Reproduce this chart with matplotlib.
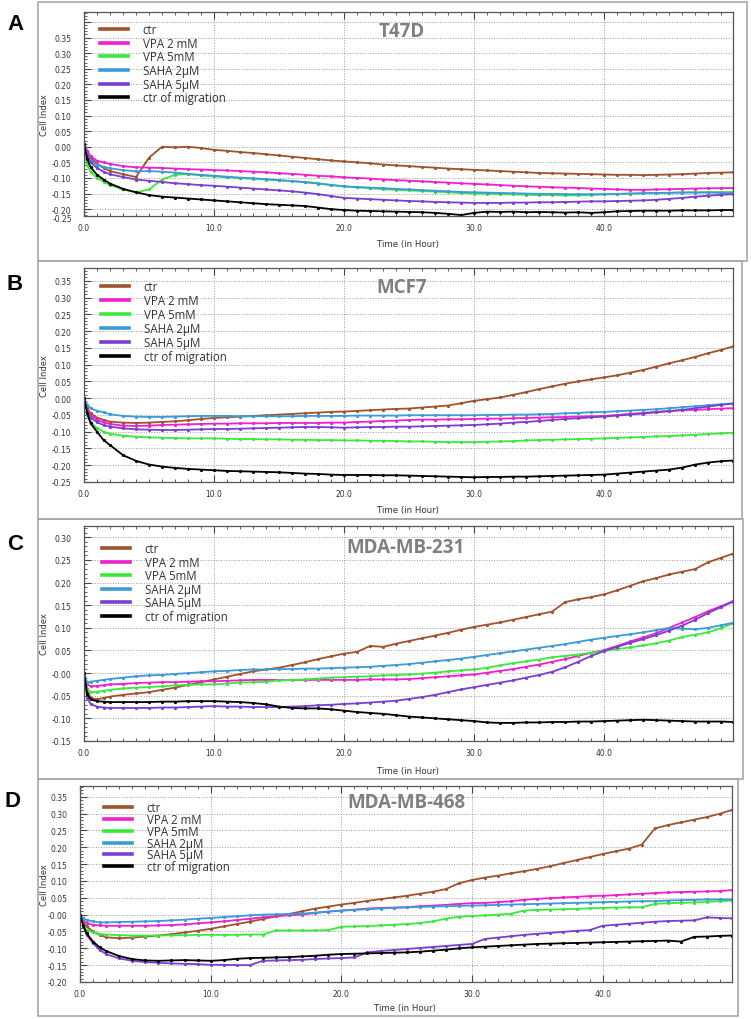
import matplotlib
matplotlib.use("Agg")
import matplotlib.pyplot as plt
from matplotlib.ticker import MultipleLocator, FixedLocator, FixedFormatter
from matplotlib.patches import Rectangle
from matplotlib.lines import Line2D

# ---------------- data ----------------
hours = [0, 0.25, 0.5, 1, 1.5, 2, 3, 4, 5, 6,
         7, 8, 9, 10, 11, 12, 13, 14, 15, 16,
         17, 18, 19, 20, 21, 22, 23, 24, 25, 26,
         27, 28, 29, 30, 31, 32, 33, 34, 35, 36,
         37, 38, 39, 40, 41, 42, 43, 44, 45, 46,
         47, 48, 49, 49.9]

series_labels = ["ctr", "VPA 2 mM", "VPA 5mM", "SAHA 2\u00b5M", "SAHA 5\u00b5M", "ctr of migration"]
series_colors = ["#A0522D", "#F020D0", "#3CE83C", "#3A9BD8", "#7B3FD0", "#000000"]
panel_titles = ["T47D", "MCF7", "MDA-MB-231", "MDA-MB-468"]
panel_letters = ["A", "B", "C", "D"]
x_tick_values = [0, 10, 20, 30, 40]
x_tick_labels = ["0.0", "10.0", "20.0", "30.0", "40.0"]

# T47D
t47d_ctr = [0.010, -0.015, -0.035, -0.055, -0.068, -0.078, -0.088, -0.097, -0.035, 0.000,
            -0.002, 0.000, -0.004, -0.010, -0.013, -0.017, -0.020, -0.024, -0.028, -0.032,
            -0.036, -0.040, -0.044, -0.047, -0.050, -0.053, -0.057, -0.060, -0.062, -0.065,
            -0.067, -0.070, -0.072, -0.074, -0.076, -0.078, -0.080, -0.082, -0.084, -0.085,
            -0.086, -0.087, -0.088, -0.089, -0.090, -0.090, -0.091, -0.090, -0.089, -0.088,
            -0.086, -0.084, -0.083, -0.082]
t47d_vpa2 = [0.010, -0.015, -0.030, -0.045, -0.050, -0.055, -0.062, -0.066, -0.067, -0.068,
             -0.070, -0.072, -0.073, -0.075, -0.076, -0.078, -0.080, -0.082, -0.085, -0.087,
             -0.090, -0.093, -0.095, -0.098, -0.100, -0.102, -0.105, -0.107, -0.109, -0.111,
             -0.113, -0.115, -0.117, -0.119, -0.121, -0.123, -0.125, -0.127, -0.128, -0.130,
             -0.131, -0.132, -0.134, -0.135, -0.137, -0.138, -0.138, -0.137, -0.136, -0.135,
             -0.134, -0.133, -0.133, -0.132]
t47d_vpa5 = [0.000, -0.060, -0.080, -0.100, -0.112, -0.123, -0.137, -0.146, -0.137, -0.105,
             -0.090, -0.088, -0.092, -0.095, -0.098, -0.101, -0.103, -0.105, -0.108, -0.110,
             -0.113, -0.117, -0.122, -0.127, -0.130, -0.133, -0.136, -0.138, -0.140, -0.142,
             -0.144, -0.146, -0.148, -0.150, -0.151, -0.152, -0.153, -0.154, -0.155, -0.155,
             -0.156, -0.156, -0.155, -0.153, -0.152, -0.150, -0.149, -0.148, -0.147, -0.146,
             -0.146, -0.145, -0.145, -0.145]
t47d_saha2 = [0.010, -0.025, -0.045, -0.058, -0.064, -0.069, -0.075, -0.079, -0.078, -0.080,
              -0.083, -0.087, -0.090, -0.093, -0.096, -0.099, -0.101, -0.104, -0.107, -0.110,
              -0.114, -0.118, -0.123, -0.127, -0.129, -0.131, -0.133, -0.135, -0.137, -0.139,
              -0.141, -0.143, -0.145, -0.146, -0.147, -0.148, -0.149, -0.150, -0.151, -0.151,
              -0.152, -0.152, -0.152, -0.152, -0.151, -0.150, -0.149, -0.148, -0.148, -0.147,
              -0.147, -0.147, -0.148, -0.148]
t47d_saha5 = [0.010, -0.030, -0.050, -0.068, -0.080, -0.088, -0.097, -0.105, -0.109, -0.113,
              -0.117, -0.120, -0.123, -0.125, -0.128, -0.131, -0.134, -0.137, -0.140, -0.143,
              -0.147, -0.152, -0.158, -0.164, -0.166, -0.168, -0.170, -0.172, -0.174, -0.175,
              -0.177, -0.178, -0.179, -0.180, -0.180, -0.180, -0.179, -0.179, -0.178, -0.178,
              -0.177, -0.176, -0.175, -0.175, -0.174, -0.173, -0.172, -0.170, -0.167, -0.164,
              -0.160, -0.157, -0.154, -0.152]
t47d_mig = [0.010, -0.040, -0.065, -0.090, -0.105, -0.118, -0.135, -0.146, -0.155, -0.160,
            -0.163, -0.166, -0.169, -0.172, -0.175, -0.178, -0.181, -0.184, -0.186, -0.188,
            -0.190, -0.195, -0.200, -0.203, -0.205, -0.206, -0.207, -0.208, -0.209, -0.210,
            -0.212, -0.215, -0.219, -0.212, -0.208, -0.209, -0.208, -0.210, -0.209, -0.210,
            -0.211, -0.210, -0.212, -0.210, -0.207, -0.206, -0.205, -0.205, -0.205, -0.204,
            -0.204, -0.204, -0.203, -0.203]

# MCF7
mcf7_ctr = [0.000, -0.030, -0.045, -0.058, -0.065, -0.070, -0.073, -0.074, -0.073, -0.071,
            -0.069, -0.066, -0.062, -0.059, -0.057, -0.055, -0.053, -0.051, -0.049, -0.047,
            -0.045, -0.043, -0.041, -0.040, -0.038, -0.036, -0.034, -0.032, -0.031, -0.028,
            -0.025, -0.022, -0.015, -0.008, -0.003, 0.002, 0.010, 0.018, 0.027, 0.035,
            0.043, 0.050, 0.056, 0.062, 0.068, 0.076, 0.084, 0.094, 0.104, 0.113,
            0.123, 0.134, 0.144, 0.154]
mcf7_vpa2 = [0.000, -0.035, -0.050, -0.065, -0.072, -0.077, -0.082, -0.083, -0.082, -0.080,
             -0.079, -0.078, -0.077, -0.076, -0.076, -0.075, -0.075, -0.075, -0.074, -0.074,
             -0.074, -0.074, -0.073, -0.073, -0.071, -0.070, -0.068, -0.067, -0.065, -0.064,
             -0.064, -0.063, -0.063, -0.062, -0.061, -0.061, -0.060, -0.059, -0.058, -0.057,
             -0.056, -0.055, -0.054, -0.053, -0.050, -0.047, -0.044, -0.041, -0.038, -0.036,
             -0.035, -0.033, -0.031, -0.030]
mcf7_vpa5 = [0.000, -0.050, -0.070, -0.090, -0.100, -0.106, -0.112, -0.115, -0.117, -0.118,
             -0.119, -0.120, -0.120, -0.120, -0.121, -0.122, -0.122, -0.123, -0.123, -0.124,
             -0.124, -0.125, -0.125, -0.126, -0.126, -0.127, -0.127, -0.128, -0.129, -0.129,
             -0.130, -0.131, -0.131, -0.131, -0.130, -0.129, -0.128, -0.126, -0.125, -0.124,
             -0.123, -0.122, -0.121, -0.120, -0.118, -0.117, -0.116, -0.114, -0.113, -0.111,
             -0.109, -0.107, -0.105, -0.103]
mcf7_saha2 = [0.000, -0.020, -0.030, -0.038, -0.042, -0.048, -0.053, -0.055, -0.056, -0.056,
              -0.055, -0.054, -0.053, -0.053, -0.053, -0.054, -0.054, -0.054, -0.054, -0.054,
              -0.053, -0.053, -0.053, -0.053, -0.052, -0.052, -0.052, -0.052, -0.051, -0.051,
              -0.051, -0.051, -0.051, -0.051, -0.050, -0.050, -0.049, -0.049, -0.048, -0.047,
              -0.045, -0.044, -0.042, -0.041, -0.039, -0.037, -0.035, -0.033, -0.030, -0.027,
              -0.024, -0.021, -0.018, -0.016]
mcf7_saha5 = [0.000, -0.040, -0.058, -0.072, -0.080, -0.085, -0.090, -0.093, -0.094, -0.095,
              -0.095, -0.094, -0.093, -0.092, -0.092, -0.091, -0.090, -0.089, -0.088, -0.087,
              -0.086, -0.086, -0.087, -0.088, -0.087, -0.086, -0.086, -0.085, -0.085, -0.084,
              -0.083, -0.082, -0.081, -0.080, -0.078, -0.076, -0.073, -0.071, -0.068, -0.065,
              -0.062, -0.060, -0.057, -0.055, -0.052, -0.049, -0.046, -0.042, -0.039, -0.035,
              -0.030, -0.025, -0.020, -0.016]
mcf7_mig = [0.000, -0.045, -0.075, -0.100, -0.125, -0.140, -0.170, -0.187, -0.198, -0.204,
            -0.208, -0.211, -0.213, -0.215, -0.217, -0.218, -0.219, -0.220, -0.221, -0.223,
            -0.225, -0.226, -0.228, -0.229, -0.229, -0.229, -0.230, -0.230, -0.231, -0.232,
            -0.233, -0.234, -0.235, -0.236, -0.235, -0.235, -0.234, -0.234, -0.233, -0.232,
            -0.231, -0.230, -0.229, -0.228, -0.225, -0.222, -0.219, -0.216, -0.213, -0.207,
            -0.198, -0.192, -0.188, -0.186]

# MDA-MB-231
mb231_ctr = [0.000, -0.036, -0.055, -0.058, -0.055, -0.052, -0.048, -0.045, -0.042, -0.037,
             -0.032, -0.026, -0.020, -0.014, -0.008, -0.002, 0.004, 0.008, 0.012, 0.018,
             0.024, 0.031, 0.037, 0.043, 0.047, 0.060, 0.058, 0.065, 0.071, 0.077,
             0.083, 0.089, 0.096, 0.102, 0.107, 0.112, 0.118, 0.124, 0.130, 0.136,
             0.157, 0.163, 0.168, 0.174, 0.183, 0.193, 0.203, 0.210, 0.218, 0.224,
             0.230, 0.245, 0.255, 0.264]
mb231_vpa2 = [0.000, -0.025, -0.029, -0.028, -0.027, -0.025, -0.024, -0.022, -0.021, -0.020,
              -0.020, -0.019, -0.018, -0.018, -0.017, -0.016, -0.015, -0.015, -0.015, -0.015,
              -0.015, -0.015, -0.015, -0.015, -0.015, -0.014, -0.014, -0.014, -0.013, -0.011,
              -0.009, -0.007, -0.005, -0.003, 0.001, 0.005, 0.009, 0.014, 0.019, 0.025,
              0.031, 0.038, 0.045, 0.051, 0.060, 0.070, 0.079, 0.088, 0.100, 0.112,
              0.124, 0.137, 0.148, 0.159]
mb231_vpa5 = [0.000, -0.036, -0.042, -0.041, -0.039, -0.037, -0.034, -0.032, -0.031, -0.029,
              -0.027, -0.026, -0.025, -0.025, -0.023, -0.021, -0.020, -0.019, -0.016, -0.015,
              -0.014, -0.012, -0.010, -0.009, -0.008, -0.007, -0.005, -0.004, -0.003, -0.001,
              0.001, 0.004, 0.006, 0.008, 0.012, 0.017, 0.022, 0.026, 0.030, 0.035,
              0.038, 0.041, 0.045, 0.049, 0.053, 0.057, 0.061, 0.066, 0.072, 0.080,
              0.085, 0.090, 0.100, 0.110]
mb231_saha2 = [0.000, -0.021, -0.019, -0.017, -0.015, -0.013, -0.010, -0.007, -0.005, -0.004,
               -0.002, 0.000, 0.002, 0.004, 0.005, 0.007, 0.008, 0.008, 0.009, 0.009,
               0.010, 0.010, 0.011, 0.012, 0.013, 0.014, 0.016, 0.018, 0.020, 0.023,
               0.026, 0.029, 0.032, 0.036, 0.040, 0.044, 0.048, 0.052, 0.056, 0.060,
               0.064, 0.069, 0.074, 0.078, 0.082, 0.086, 0.090, 0.095, 0.100, 0.098,
               0.097, 0.100, 0.106, 0.111]
mb231_saha5 = [0.000, -0.055, -0.068, -0.074, -0.076, -0.077, -0.077, -0.077, -0.077, -0.076,
               -0.076, -0.075, -0.074, -0.073, -0.074, -0.074, -0.075, -0.075, -0.075, -0.074,
               -0.073, -0.071, -0.070, -0.068, -0.067, -0.065, -0.063, -0.061, -0.057, -0.053,
               -0.048, -0.042, -0.036, -0.031, -0.026, -0.021, -0.016, -0.010, -0.004, 0.003,
               0.013, 0.025, 0.038, 0.049, 0.058, 0.067, 0.075, 0.084, 0.094, 0.105,
               0.118, 0.133, 0.146, 0.158]
mb231_mig = [0.000, -0.047, -0.058, -0.062, -0.063, -0.064, -0.064, -0.064, -0.064, -0.063,
             -0.063, -0.062, -0.062, -0.062, -0.063, -0.064, -0.066, -0.069, -0.074, -0.077,
             -0.078, -0.078, -0.080, -0.083, -0.086, -0.088, -0.090, -0.093, -0.096, -0.098,
             -0.100, -0.102, -0.104, -0.106, -0.109, -0.110, -0.110, -0.109, -0.109, -0.108,
             -0.108, -0.107, -0.107, -0.106, -0.105, -0.104, -0.103, -0.104, -0.105, -0.106,
             -0.107, -0.107, -0.107, -0.108]

# MDA-MB-468
mb468_ctr = [0.000, -0.023, -0.035, -0.050, -0.060, -0.067, -0.070, -0.068, -0.065, -0.062,
             -0.058, -0.053, -0.048, -0.042, -0.035, -0.028, -0.021, -0.013, -0.005, 0.002,
             0.010, 0.018, 0.024, 0.030, 0.035, 0.041, 0.046, 0.051, 0.056, 0.062,
             0.068, 0.076, 0.093, 0.103, 0.110, 0.116, 0.123, 0.129, 0.136, 0.144,
             0.153, 0.162, 0.171, 0.180, 0.188, 0.196, 0.208, 0.256, 0.266, 0.274,
             0.282, 0.290, 0.300, 0.311]
mb468_vpa2 = [0.000, -0.018, -0.025, -0.030, -0.032, -0.033, -0.033, -0.033, -0.033, -0.032,
              -0.031, -0.029, -0.026, -0.023, -0.020, -0.016, -0.012, -0.008, -0.004, -0.002,
              0.000, 0.005, 0.009, 0.012, 0.015, 0.018, 0.020, 0.021, 0.022, 0.025,
              0.027, 0.029, 0.032, 0.034, 0.035, 0.037, 0.040, 0.044, 0.047, 0.049,
              0.051, 0.053, 0.055, 0.056, 0.058, 0.060, 0.062, 0.064, 0.066, 0.067,
              0.068, 0.069, 0.070, 0.073]
mb468_vpa5 = [0.000, -0.030, -0.045, -0.053, -0.057, -0.059, -0.061, -0.062, -0.062, -0.062,
              -0.061, -0.061, -0.060, -0.060, -0.060, -0.060, -0.059, -0.059, -0.047, -0.047,
              -0.047, -0.047, -0.046, -0.036, -0.035, -0.034, -0.032, -0.030, -0.028, -0.025,
              -0.020, -0.012, -0.006, -0.004, -0.002, 0.000, 0.003, 0.012, 0.014, 0.015,
              0.016, 0.017, 0.019, 0.020, 0.021, 0.022, 0.022, 0.032, 0.034, 0.035,
              0.036, 0.038, 0.040, 0.042]
mb468_saha2 = [0.000, -0.010, -0.016, -0.020, -0.023, -0.023, -0.022, -0.021, -0.020, -0.019,
               -0.017, -0.015, -0.012, -0.010, -0.007, -0.005, -0.002, 0.000, 0.001, 0.002,
               0.003, 0.006, 0.009, 0.012, 0.014, 0.016, 0.018, 0.020, 0.022, 0.023,
               0.024, 0.025, 0.026, 0.027, 0.028, 0.029, 0.030, 0.031, 0.032, 0.033,
               0.034, 0.035, 0.036, 0.037, 0.038, 0.039, 0.040, 0.040, 0.042, 0.043,
               0.044, 0.045, 0.045, 0.045]
mb468_saha5 = [0.000, -0.030, -0.060, -0.085, -0.105, -0.117, -0.130, -0.137, -0.141, -0.143,
               -0.145, -0.146, -0.147, -0.149, -0.149, -0.150, -0.150, -0.137, -0.136, -0.135,
               -0.134, -0.132, -0.130, -0.129, -0.127, -0.112, -0.108, -0.105, -0.102, -0.099,
               -0.096, -0.093, -0.090, -0.087, -0.072, -0.068, -0.064, -0.060, -0.057, -0.054,
               -0.051, -0.048, -0.046, -0.033, -0.030, -0.027, -0.024, -0.021, -0.019, -0.018,
               -0.017, -0.008, -0.010, -0.011]
mb468_mig = [0.000, -0.033, -0.055, -0.080, -0.097, -0.108, -0.123, -0.132, -0.136, -0.137,
             -0.136, -0.135, -0.136, -0.137, -0.135, -0.131, -0.129, -0.128, -0.127, -0.126,
             -0.124, -0.122, -0.119, -0.117, -0.116, -0.115, -0.114, -0.113, -0.112, -0.110,
             -0.107, -0.104, -0.100, -0.097, -0.095, -0.093, -0.091, -0.089, -0.087, -0.086,
             -0.085, -0.084, -0.083, -0.082, -0.081, -0.080, -0.079, -0.078, -0.077, -0.080,
             -0.066, -0.065, -0.063, -0.062]

# y tick values and labels per panel (panel A's lowest label sits at the axis floor)
a_yticks = [-0.20, -0.15, -0.10, -0.05, 0.0, 0.05, 0.10, 0.15, 0.20, 0.25, 0.30, 0.35, 0.40]
a_ylabels = ["-0.20", "-0.15", "-0.10", "-0.05", "0.00", "0.05", "0.10", "0.15", "0.20", "0.25", "0.30", "0.35", ""]
a_floor_label = "-0.25"
b_yticks = [-0.25, -0.20, -0.15, -0.10, -0.05, 0.0, 0.05, 0.10, 0.15, 0.20, 0.25, 0.30, 0.35]
b_ylabels = ["-0.25", "-0.20", "-0.15", "-0.10", "-0.05", "0.00", "0.05", "0.10", "0.15", "0.20", "0.25", "0.30", "0.35"]
c_yticks = [-0.15, -0.10, -0.05, 0.0, 0.05, 0.10, 0.15, 0.20, 0.25, 0.30]
c_ylabels = ["-0.15", "-0.10", "-0.05", "-0.00", "0.05", "0.10", "0.15", "0.20", "0.25", "0.30"]
d_yticks = [-0.20, -0.15, -0.10, -0.05, 0.0, 0.05, 0.10, 0.15, 0.20, 0.25, 0.30, 0.35]
d_ylabels = ["-0.20", "-0.15", "-0.10", "-0.05", "-0.00", "0.05", "0.10", "0.15", "0.20", "0.25", "0.30", "0.35"]

panels = [
    dict(series=[t47d_ctr, t47d_vpa2, t47d_vpa5, t47d_saha2, t47d_saha5, t47d_mig],
         yticks=a_yticks, ylabels=a_ylabels, ylim=(-0.222, 0.432), floor=a_floor_label),
    dict(series=[mcf7_ctr, mcf7_vpa2, mcf7_vpa5, mcf7_saha2, mcf7_saha5, mcf7_mig],
         yticks=b_yticks, ylabels=b_ylabels, ylim=(-0.25, 0.388), floor=None),
    dict(series=[mb231_ctr, mb231_vpa2, mb231_vpa5, mb231_saha2, mb231_saha5, mb231_mig],
         yticks=c_yticks, ylabels=c_ylabels, ylim=(-0.15, 0.325), floor=None),
    dict(series=[mb468_ctr, mb468_vpa2, mb468_vpa5, mb468_saha2, mb468_saha5, mb468_mig],
         yticks=d_yticks, ylabels=d_ylabels, ylim=(-0.20, 0.382), floor=None),
]

# ---------------- layout (pixels) ----------------
W, H = 751, 1020
axes_px = [(84, 13, 733, 217), (84, 269, 733, 483), (84, 527, 733, 742), (80, 787, 732, 983)]
boxes_px = [(38, 3, 747, 262), (38, 262, 742, 520), (38, 520, 743, 780), (38, 780, 738, 1017)]
letter_px = [(15, 25), (15, 285), (15, 545), (13, 802)]
xlabel_px = [(408, 245), (408, 511), (408, 772), (405, 1009)]
title_pos = [(0.49, 0.905), (0.49, 0.911), (0.495, 0.902), (0.50, 0.918)]
legend_top_px = [11, 12, 16, 15]
legend_left_px = [16, 17, 18, 24]
legend_spacing = [0.06, 0.08, 0.05, -0.10]

fig = plt.figure(figsize=(W / 100, H / 100), dpi=100)
fig.patch.set_facecolor("white")


def frect(x0, y0, x1, y1):
    return [x0 / W, 1 - y1 / H, (x1 - x0) / W, (y1 - y0) / H]


for i, p in enumerate(panels):
    bx = boxes_px[i]
    fig.patches.append(Rectangle((bx[0] / W, 1 - bx[3] / H), (bx[2] - bx[0]) / W, (bx[3] - bx[1]) / H,
                                 transform=fig.transFigure, fill=False, edgecolor="#a8a8a8", lw=1.2))
    ax = fig.add_axes(frect(*axes_px[i]))
    for vals, col in zip(p["series"], series_colors):
        ax.plot(hours, vals, color=col, lw=1.3, marker="o", ms=2.3, mew=0)
    ax.set_xlim(0, 49.9)
    ax.set_ylim(*p["ylim"])
    ax.xaxis.set_major_locator(FixedLocator(x_tick_values))
    ax.xaxis.set_major_formatter(FixedFormatter(x_tick_labels))
    ax.xaxis.set_minor_locator(MultipleLocator(1))
    ax.yaxis.set_major_locator(FixedLocator(p["yticks"]))
    ax.yaxis.set_major_formatter(FixedFormatter(p["ylabels"]))
    ax.yaxis.set_minor_locator(MultipleLocator(0.01))
    ax.tick_params(which="both", direction="in", top=True, right=False, colors="#444444")
    ax.tick_params(which="major", length=5, width=0.8)
    ax.tick_params(which="minor", length=2.5, width=0.6)
    ax.tick_params(axis="x", labelsize=5.5, pad=5, labelcolor="#333333")
    ax.tick_params(axis="y", labelsize=5.5, pad=9, labelcolor="#333333")
    ax.grid(which="major", ls=":", color="#9a9a9a", lw=0.7)
    for s in ax.spines.values():
        s.set_color("#555555")
        s.set_linewidth(0.9)
    aw = axes_px[i][2] - axes_px[i][0]
    ah = axes_px[i][3] - axes_px[i][1]
    if p["floor"]:
        ax.text(-12 / aw, -2.5 / ah, p["floor"], transform=ax.transAxes, ha="right", va="center",
                fontsize=5.5, color="#333333")
    ax.set_ylabel("Cell Index", fontsize=6, color="#333333")
    ax.yaxis.set_label_coords(-(axes_px[i][0] - 49) / aw, 0.5)

    ax.text(title_pos[i][0], title_pos[i][1], panel_titles[i], transform=ax.transAxes,
            ha="center", va="center", fontsize=13.5, fontweight="bold", color="#808080",
            family="Open Sans")

    handles = [Line2D([0], [0], color=c, lw=2.6) for c in series_colors]
    leg = ax.legend(handles, series_labels, loc="upper left",
                    bbox_to_anchor=(legend_left_px[i] / aw, 1 - legend_top_px[i] / ah),
                    frameon=False, borderpad=0, borderaxespad=0, handlelength=2.4,
                    handletextpad=1.3, labelspacing=legend_spacing[i],
                    prop={"family": "Open Sans", "size": 8.3})
    for t in leg.get_texts():
        t.set_color("#333333")

    fig.text(xlabel_px[i][0] / W, 1 - xlabel_px[i][1] / H, "Time (in Hour)", ha="center", va="center",
             fontsize=6.2, color="#333333")
    fig.text(letter_px[i][0] / W, 1 - letter_px[i][1] / H, panel_letters[i], ha="center", va="center",
             fontsize=16, fontweight="bold", family="Liberation Sans", color="black")

fig.savefig("out.png", dpi=100)
